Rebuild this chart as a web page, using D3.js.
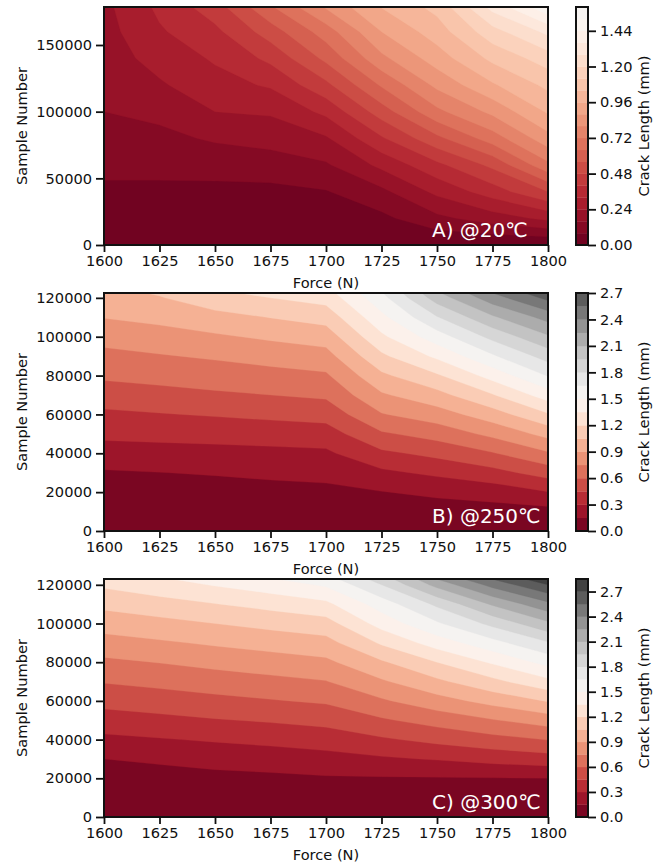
<!DOCTYPE html>
<html>
<head>
<meta charset="utf-8">
<script src="https://cdn.jsdelivr.net/npm/d3@7"></script>
<style>
  body { margin: 0; background: #fff; }
  text { font-family: "DejaVu Sans", sans-serif; fill: #111; }
</style>
</head>
<body>
<script>
// force columns shared by all three maps
var forces = [1600, 1625, 1650, 1675, 1700, 1725, 1750, 1775, 1800];

// crack length (mm), one row per sample number, one column per force
var samplesA = [0, 20000, 40000, 60000, 80000, 100000, 120000, 140000, 160000, 180000];
var crackA = [
  [0, 0, 0, 0, 0, 0, 0, 0, 0],
  [.02, .02, .02, .02, .03, .06, .14, .20, .26],
  [.065, .065, .06, .06, .075, .14, .26, .36, .48],
  [.10, .10, .11, .12, .15, .26, .38, .50, .70],
  [.13, .14, .17, .19, .23, .39, .54, .68, .85],
  [.16, .18, .24, .25, .34, .52, .70, .82, .97],
  [.18, .23, .29, .33, .46, .65, .82, .95, 1.06],
  [.20, .27, .33, .42, .58, .78, .92, 1.06, 1.16],
  [.21, .31, .38, .52, .68, .88, 1.00, 1.17, 1.30],
  [.22, .34, .45, .64, .82, .97, 1.07, 1.32, 1.52]
];

var samplesBC = [0, 10000, 20000, 30000, 40000, 50000, 60000, 70000, 80000, 90000, 100000, 110000, 120000, 130000];
var crackB = [
  [0, 0, 0, 0, 0, 0, 0, 0, 0],
  [.03, .035, .04, .045, .05, .07, .08, .09, .10],
  [.08, .088, .095, .10, .11, .145, .18, .214, .295],
  [.135, .148, .16, .18, .196, .27, .33, .40, .513],
  [.233, .243, .253, .262, .274, .42, .49, .59, .732],
  [.335, .345, .354, .368, .382, .58, .66, .788, .95],
  [.422, .442, .462, .484, .506, .74, .83, .98, 1.185],
  [.524, .55, .577, .60, .626, .88, 1.0, 1.19, 1.424],
  [.626, .65, .675, .70, .729, 1.02, 1.18, 1.408, 1.66],
  [.709, .739, .769, .806, .843, 1.17, 1.38, 1.629, 1.861],
  [.802, .84, .879, .924, .969, 1.32, 1.58, 1.843, 2.08],
  [.905, .94, 1.0, 1.054, 1.108, 1.46, 1.79, 2.077, 2.305],
  [1.0, 1.04, 1.14, 1.2, 1.256, 1.6, 2.02, 2.333, 2.59],
  [1.07, 1.14, 1.28, 1.34, 1.4, 1.75, 2.25, 2.6, 2.85]
];

var crackC = [
  [0, 0, 0, 0, 0, 0, 0, 0, 0],
  [.04, .045, .05, .055, .06, .062, .065, .068, .07],
  [.095, .10, .11, .12, .135, .138, .14, .145, .15],
  [.15, .17, .20, .22, .247, .28, .31, .35, .385],
  [.266, .29, .315, .34, .37, .43, .49, .55, .605],
  [.383, .41, .44, .465, .495, .58, .66, .74, .82],
  [.498, .53, .56, .59, .62, .73, .84, .95, 1.06],
  [.61, .64, .675, .71, .744, .88, 1.02, 1.16, 1.31],
  [.72, .755, .795, .83, .868, 1.03, 1.2, 1.37, 1.55],
  [.842, .88, .92, .96, .998, 1.22, 1.42, 1.60, 1.785],
  [.965, 1.005, 1.05, 1.095, 1.14, 1.41, 1.63, 1.84, 2.07],
  [1.088, 1.14, 1.195, 1.25, 1.313, 1.57, 1.83, 2.12, 2.36],
  [1.225, 1.29, 1.36, 1.43, 1.52, 1.8, 2.15, 2.45, 2.7],
  [1.36, 1.44, 1.53, 1.63, 1.75, 2.05, 2.5, 2.8, 3.0]
];

// contour levels and colourbar ticks
var levelsA = [0, .08, .16, .24, .32, .40, .48, .56, .64, .72, .80, .88, .96, 1.04, 1.12, 1.20, 1.28, 1.36, 1.44, 1.52, 1.60];
var levelsB = [0, .15, .30, .45, .60, .75, .90, 1.05, 1.20, 1.35, 1.50, 1.65, 1.80, 1.95, 2.10, 2.25, 2.40, 2.55, 2.70];
var levelsC = [0, .15, .30, .45, .60, .75, .90, 1.05, 1.20, 1.35, 1.50, 1.65, 1.80, 1.95, 2.10, 2.25, 2.40, 2.55, 2.70, 2.85];
var cticksA = [0, .24, .48, .72, .96, 1.20, 1.44];
var cticksBC = [0, .3, .6, .9, 1.2, 1.5, 1.8, 2.1, 2.4, 2.7];
var xticks = [1600, 1625, 1650, 1675, 1700, 1725, 1750, 1775, 1800];
var yticksA = [0, 50000, 100000, 150000];
var yticksBC = [0, 20000, 40000, 60000, 80000, 100000, 120000];
var titles = ['A) @20\u2103', 'B) @250\u2103', 'C) @300\u2103'];

var panels = [
  { grid: crackA, samples: samplesA, ymax: 178500, yticks: yticksA, levels: levelsA, cticks: cticksA, cfmt: '.2f', top: 7 },
  { grid: crackB, samples: samplesBC, ymax: 122500, yticks: yticksBC, levels: levelsB, cticks: cticksBC, cfmt: '.1f', top: 293 },
  { grid: crackC, samples: samplesBC, ymax: 123000, yticks: yticksBC, levels: levelsC, cticks: cticksBC, cfmt: '.1f', top: 579 }
];

var color = function(v) { return d3.interpolateRdGy(v / 3.0); };

var x0 = 104, x1 = 548, ph = 238,
  cbx = 576, cbw = 12,
  fs = 14.6;

var svg = d3.select('body').append('svg')
  .attr('width', 668)
  .attr('height', 867);

var x = d3.scaleLinear().domain([1600, 1800]).range([x0, x1]);

panels.forEach(function(p, k) {
  var top = p.top, bottom = top + ph;
  var y = d3.scaleLinear().domain([0, p.ymax]).range([bottom, top]);
  var n = forces.length, m = p.samples.length;
  // grid index -> data (d3.contours puts samples at cell centres)
  var gx = d3.scaleLinear().domain([0.5, n - 0.5]).range([forces[0], forces[n - 1]]);
  var gy = d3.scaleLinear().domain([0.5, m - 0.5]).range([p.samples[0], p.samples[m - 1]]);

  var values = [].concat.apply([], p.grid);
  var bands = d3.contours()
    .size([n, m])
    .thresholds(p.levels.slice(0, -1))(values);

  var proj = d3.geoTransform({
    point: function(a, b) { this.stream.point(x(gx(a)), y(gy(b))); }
  });
  var path = d3.geoPath(proj);

  svg.append('clipPath').attr('id', 'clip' + k)
    .append('rect')
    .attr('x', x0).attr('y', top)
    .attr('width', x1 - x0).attr('height', ph);

  svg.append('g')
    .attr('clip-path', 'url(#clip' + k + ')')
    .selectAll('path')
    .data(bands)
    .join('path')
    .attr('d', path)
    .attr('fill', function(d, i) { return color((p.levels[i] + p.levels[i + 1]) / 2); })
    .attr('stroke', function(d, i) { return color((p.levels[i] + p.levels[i + 1]) / 2); })
    .attr('stroke-width', 0.3);

  svg.append('rect')
    .attr('x', x0).attr('y', top)
    .attr('width', x1 - x0).attr('height', ph)
    .style('fill', 'none')
    .style('stroke', '#111')
    .style('stroke-width', 2);

  // axes
  var gxAxis = svg.append('g')
    .attr('transform', 'translate(0,' + bottom + ')')
    .call(d3.axisBottom(x).tickValues(xticks).tickFormat(d3.format('d')).tickSize(7).tickPadding(4));
  var gyAxis = svg.append('g')
    .attr('transform', 'translate(' + x0 + ',0)')
    .call(d3.axisLeft(y).tickValues(p.yticks).tickFormat(d3.format('d')).tickSize(8).tickPadding(4));
  [gxAxis, gyAxis].forEach(function(a) {
    a.select('.domain').remove();
    a.selectAll('line').style('stroke', '#111').style('stroke-width', 1.8);
    a.selectAll('text').style('font-size', fs + 'px').style('font-family', '"DejaVu Sans", sans-serif').style('fill', '#111');
  });

  svg.append('text')
    .attr('x', (x0 + x1) / 2)
    .attr('y', bottom + 43)
    .style('text-anchor', 'middle')
    .style('font-size', fs + 'px')
    .text('Force (N)');

  svg.append('text')
    .attr('transform', 'translate(27,' + (top + ph / 2) + ') rotate(-90)')
    .style('text-anchor', 'middle')
    .style('font-size', fs + 'px')
    .text('Sample Number');

  svg.append('text')
    .attr('x', 432)
    .attr('y', bottom - 8)
    .style('font-size', '20px')
    .style('fill', '#fff')
    .text(titles[k]);

  // colourbar
  var cmax = p.levels[p.levels.length - 1];
  var cy = d3.scaleLinear().domain([0, cmax]).range([bottom, top]);
  var steps = p.levels.slice(0, -1).map(function(v, i) { return [v, p.levels[i + 1]]; });
  svg.append('g').selectAll('rect')
    .data(steps)
    .join('rect')
    .attr('x', cbx)
    .attr('width', cbw)
    .attr('y', function(d) { return cy(d[1]); })
    .attr('height', function(d) { return cy(d[0]) - cy(d[1]) + 0.3; })
    .style('fill', function(d) { return color((d[0] + d[1]) / 2); });
  svg.append('rect')
    .attr('x', cbx).attr('y', top)
    .attr('width', cbw).attr('height', ph)
    .style('fill', 'none')
    .style('stroke', '#111')
    .style('stroke-width', 2);
  var gc = svg.append('g')
    .attr('transform', 'translate(' + (cbx + cbw) + ',0)')
    .call(d3.axisRight(cy).tickValues(p.cticks).tickFormat(d3.format(p.cfmt)).tickSize(8).tickPadding(4));
  gc.select('.domain').remove();
  gc.selectAll('line').style('stroke', '#111').style('stroke-width', 1.8);
  gc.selectAll('text').style('font-size', fs + 'px').style('font-family', '"DejaVu Sans", sans-serif').style('fill', '#111');

  svg.append('text')
    .attr('transform', 'translate(649,' + (top + ph / 2) + ') rotate(-90)')
    .style('text-anchor', 'middle')
    .style('font-size', fs + 'px')
    .text('Crack Length (mm)');
});
</script>
</body>
</html>
